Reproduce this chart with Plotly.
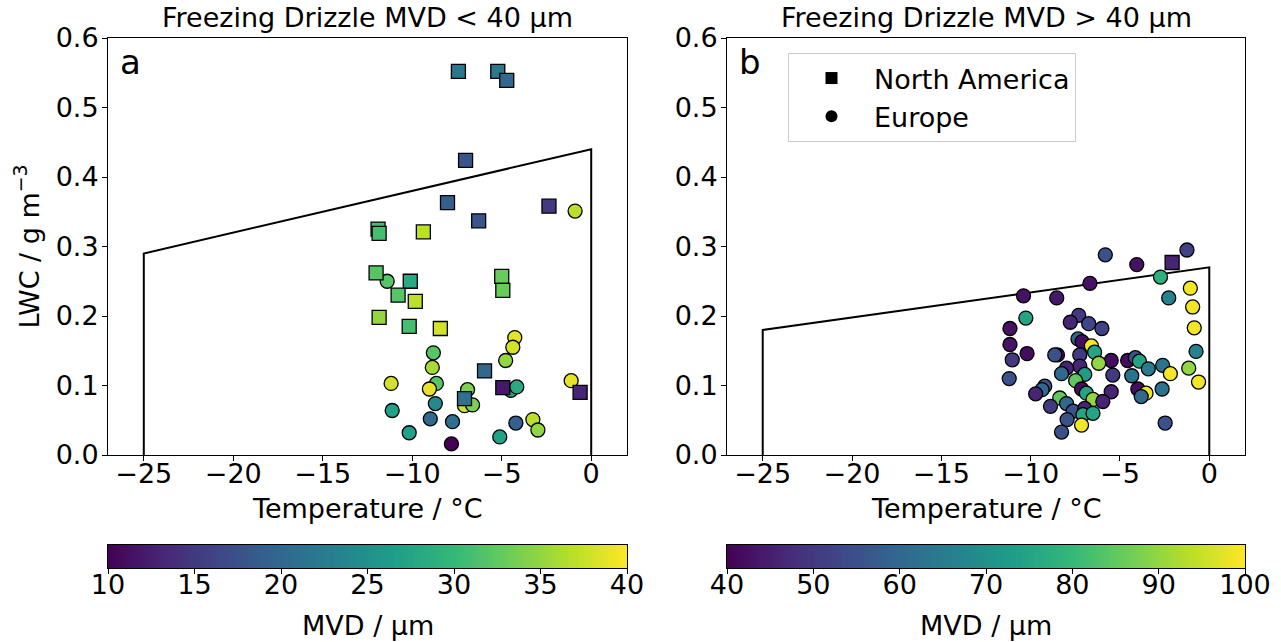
import numpy as np
import plotly.graph_objects as go

# ---- Panel a: freezing drizzle, MVD < 40 um ----
a_eu_temp = [-0.90, -11.40, -4.27, -4.38, -4.78, -8.82, -8.88, -11.18, -8.65, -9.04,
             -6.91, -4.49, -4.16, -1.12, -8.71, -7.08, -6.63, -11.12, -8.99, -7.75,
             -10.17, -7.81, -5.11, -4.21, -3.26, -2.98]
a_eu_lwc = [0.351, 0.250, 0.169, 0.155, 0.136, 0.147, 0.126, 0.103, 0.103, 0.095,
            0.094, 0.093, 0.098, 0.107, 0.074, 0.071, 0.072, 0.064, 0.052, 0.048,
            0.032, 0.016, 0.026, 0.046, 0.051, 0.036]
a_eu_mvd = [37, 32, 39, 38, 35, 32, 36, 38, 32, 39,
            34, 28, 28, 39, 24, 38, 34, 27, 20, 21,
            27, 10, 27, 19, 37, 35]

a_na_temp = [-7.42, -5.22, -4.72, -7.02, -8.03, -6.29, -2.36, -11.91, -11.85, -9.38,
             -12.02, -10.11, -10.79, -9.83, -11.85, -10.17, -8.43, -5.00, -4.94, -5.96,
             -4.94, -0.62, -7.08]
a_na_lwc = [0.552, 0.552, 0.539, 0.424, 0.363, 0.337, 0.358, 0.325, 0.319, 0.321,
            0.262, 0.250, 0.230, 0.221, 0.198, 0.185, 0.182, 0.257, 0.237, 0.121,
            0.097, 0.090, 0.081]
a_na_mvd = [22, 22, 20, 18, 19, 18, 15, 31, 31, 37,
            32, 28, 32, 37, 35, 31, 38, 33, 33, 20,
            12, 13, 21]

# ---- Panel b: freezing drizzle, MVD > 40 um ----
b_eu_temp = [-5.82, -4.06, -1.25, -2.73, -6.68, -10.40, -8.54, -2.27, -1.06, -0.93,
             -0.84, -0.74, -1.15, -0.60, -2.47, -10.27, -11.16, -11.16, -11.03, -10.20,
             -11.20, -7.31, -7.78, -6.75, -6.01, -7.35, -7.12, -6.60, -6.42, -7.25,
             -8.50, -8.65, -5.49, -6.19, -7.25, -7.99, -8.27, -6.97, -7.48, -5.40,
             -4.57, -4.14, -3.91, -3.41, -2.61, -2.18, -4.34, -2.64, -4.00, -3.54,
             -3.81, -7.15, -6.88, -6.51, -5.49, -5.96, -9.21, -9.36, -9.72, -8.37,
             -8.89, -7.99, -7.62, -6.97, -7.07, -6.51, -7.96, -7.15, -8.27]
b_eu_lwc = [0.288, 0.274, 0.295, 0.256, 0.247, 0.229, 0.226, 0.226, 0.240, 0.213,
            0.183, 0.149, 0.125, 0.105, 0.046, 0.197, 0.182, 0.159, 0.137, 0.146,
            0.110, 0.201, 0.191, 0.189, 0.182, 0.167, 0.163, 0.157, 0.148, 0.144,
            0.144, 0.144, 0.136, 0.132, 0.128, 0.125, 0.117, 0.116, 0.107, 0.115,
            0.136, 0.140, 0.135, 0.124, 0.129, 0.117, 0.114, 0.095, 0.095, 0.089,
            0.084, 0.095, 0.089, 0.080, 0.091, 0.077, 0.099, 0.094, 0.088, 0.082,
            0.070, 0.074, 0.063, 0.067, 0.058, 0.060, 0.051, 0.043, 0.033]
b_eu_mvd = [55, 43, 52, 78, 43, 43, 44, 67, 99, 99,
            99, 67, 90, 99, 55, 75, 43, 43, 50, 42,
            55, 50, 46, 53, 52, 60, 42, 99, 75, 50,
            42, 55, 42, 90, 46, 46, 60, 73, 85, 50,
            42, 55, 75, 65, 63, 99, 63, 63, 42, 99,
            60, 42, 75, 90, 46, 46, 55, 60, 46, 85,
            50, 60, 55, 46, 75, 75, 55, 99, 55]

b_na_temp = [-2.08]
b_na_lwc = [0.277]
b_na_mvd = [46]

# Envelope outlines (temperature, LWC)
env_temp = [-25, -25, 0, 0]
env_a_lwc = [0, 0.29, 0.44, 0]
env_b_lwc = [0, 0.18, 0.27, 0]

# Colour-bar ranges and ticks
cbar_a_range = [10, 40]
cbar_a_ticks = [10, 15, 20, 25, 30, 35, 40]
cbar_b_range = [40, 100]
cbar_b_ticks = [40, 50, 60, 70, 80, 90, 100]

FONT = "DejaVu Sans"
FS = 27
MSIZE = 14
MLINE = dict(color="black", width=1.3)
text_font = dict(family=FONT, size=FS, color="black")

fig = go.Figure()

# envelopes
fig.add_trace(go.Scatter(x=env_temp, y=env_a_lwc, mode="lines",
                         line=dict(color="black", width=2), showlegend=False,
                         xaxis="x", yaxis="y"))
fig.add_trace(go.Scatter(x=env_temp, y=env_b_lwc, mode="lines",
                         line=dict(color="black", width=2), showlegend=False,
                         xaxis="x2", yaxis="y2"))

# panel a points
fig.add_trace(go.Scatter(x=a_eu_temp, y=a_eu_lwc, mode="markers", showlegend=False,
                         marker=dict(symbol="circle", size=MSIZE, color=a_eu_mvd,
                                     coloraxis="coloraxis", line=MLINE),
                         xaxis="x", yaxis="y"))
fig.add_trace(go.Scatter(x=a_na_temp, y=a_na_lwc, mode="markers", showlegend=False,
                         marker=dict(symbol="square", size=MSIZE, color=a_na_mvd,
                                     coloraxis="coloraxis", line=MLINE),
                         xaxis="x", yaxis="y"))

# panel b points
fig.add_trace(go.Scatter(x=b_eu_temp, y=b_eu_lwc, mode="markers", showlegend=False,
                         marker=dict(symbol="circle", size=MSIZE, color=b_eu_mvd,
                                     coloraxis="coloraxis2", line=MLINE),
                         xaxis="x2", yaxis="y2"))
fig.add_trace(go.Scatter(x=b_na_temp, y=b_na_lwc, mode="markers", showlegend=False,
                         marker=dict(symbol="square", size=MSIZE, color=b_na_mvd,
                                     coloraxis="coloraxis2", line=MLINE),
                         xaxis="x2", yaxis="y2"))

# colour bars drawn as thin heatmap strips on their own axes
strip_a = np.linspace(cbar_a_range[0], cbar_a_range[1], 400)
strip_b = np.linspace(cbar_b_range[0], cbar_b_range[1], 400)
fig.add_trace(go.Heatmap(x=strip_a, y=[0], z=[strip_a], coloraxis="coloraxis",
                         xaxis="x3", yaxis="y3", hoverinfo="skip"))
fig.add_trace(go.Heatmap(x=strip_b, y=[0], z=[strip_b], coloraxis="coloraxis2",
                         xaxis="x4", yaxis="y4", hoverinfo="skip"))

# legend entries
fig.add_trace(go.Scatter(x=[None], y=[None], mode="markers", name="North America",
                         marker=dict(symbol="square", size=13, color="black"),
                         xaxis="x2", yaxis="y2"))
fig.add_trace(go.Scatter(x=[None], y=[None], mode="markers", name="Europe",
                         marker=dict(symbol="circle", size=13, color="black"),
                         xaxis="x2", yaxis="y2"))

W, H = 1281, 642
xa = [108 / W, 627 / W]
xb = [727 / W, 1245 / W]
yd = [1 - 455 / H, 1 - 38 / H]
ycb = [1 - 568 / H, 1 - 545 / H]

axis_common = dict(showline=True, linecolor="black", linewidth=1, mirror=True,
                   ticks="outside", ticklen=5, tickwidth=1, tickcolor="black",
                   showgrid=False, zeroline=False, automargin=False,
                   tickfont=text_font)

xcommon = dict(axis_common, range=[-27, 2], tickmode="array",
               tickvals=[-25, -20, -15, -10, -5, 0], ticklabelstandoff=-10)
ycommon = dict(axis_common, range=[0, 0.6], tickmode="array",
               tickvals=[0, 0.1, 0.2, 0.3, 0.4, 0.5, 0.6], tickformat=".1f",
               ticklabelstandoff=-2)

cbx_common = dict(axis_common, ticklabelstandoff=-12)
cby_common = dict(showline=True, linecolor="black", linewidth=1, mirror=True,
                  showticklabels=False, ticks="", showgrid=False, zeroline=False,
                  range=[-0.5, 0.5], automargin=False)


def label(text, xc, yc, size=FS, xanchor="center", yanchor="middle"):
    return dict(text=text, x=xc, y=yc, xref="paper", yref="paper",
                xanchor=xanchor, yanchor=yanchor, showarrow=False,
                font=dict(family=FONT, size=size, color="black"))


mid_a = (xa[0] + xa[1]) / 2
mid_b = (xb[0] + xb[1]) / 2

fig.update_layout(
    width=W, height=H,
    margin=dict(l=0, r=0, t=0, b=0),
    paper_bgcolor="white", plot_bgcolor="white",
    font=text_font,
    xaxis=dict(xcommon, domain=xa, anchor="y"),
    yaxis=dict(ycommon, domain=yd, anchor="x",
               title=dict(text="LWC / g m<sup>−3</sup>", font=text_font, standoff=8)),
    xaxis2=dict(xcommon, domain=xb, anchor="y2"),
    yaxis2=dict(ycommon, domain=yd, anchor="x2"),
    xaxis3=dict(cbx_common, domain=xa, anchor="y3", range=cbar_a_range,
                tickmode="array", tickvals=cbar_a_ticks),
    yaxis3=dict(cby_common, domain=ycb, anchor="x3"),
    xaxis4=dict(cbx_common, domain=xb, anchor="y4", range=cbar_b_range,
                tickmode="array", tickvals=cbar_b_ticks),
    yaxis4=dict(cby_common, domain=ycb, anchor="x4"),
    coloraxis=dict(colorscale="Viridis", cmin=cbar_a_range[0], cmax=cbar_a_range[1],
                   showscale=False),
    coloraxis2=dict(colorscale="Viridis", cmin=cbar_b_range[0], cmax=cbar_b_range[1],
                    showscale=False),
    legend=dict(x=788 / W, y=1 - 53 / H, xanchor="left", yanchor="top",
                bgcolor="white", bordercolor="#cccccc", borderwidth=1,
                font=text_font, itemsizing="constant", itemwidth=75),
    annotations=[
        label("Freezing Drizzle MVD < 40 µm", mid_a, 1 - 35 / H, yanchor="bottom"),
        label("Freezing Drizzle MVD > 40 µm", mid_b, 1 - 35 / H, yanchor="bottom"),
        label("Temperature / °C", mid_a, 1 - 508 / H),
        label("Temperature / °C", mid_b, 1 - 508 / H),
        label("MVD / µm", mid_a, 1 - 625 / H),
        label("MVD / µm", mid_b, 1 - 625 / H),
        label("a", 118 / W, 1 - 40 / H, size=34, xanchor="left", yanchor="top"),
        label("b", 737 / W, 1 - 40 / H, size=34, xanchor="left", yanchor="top"),
    ],
)

fig.write_html("out.html")
